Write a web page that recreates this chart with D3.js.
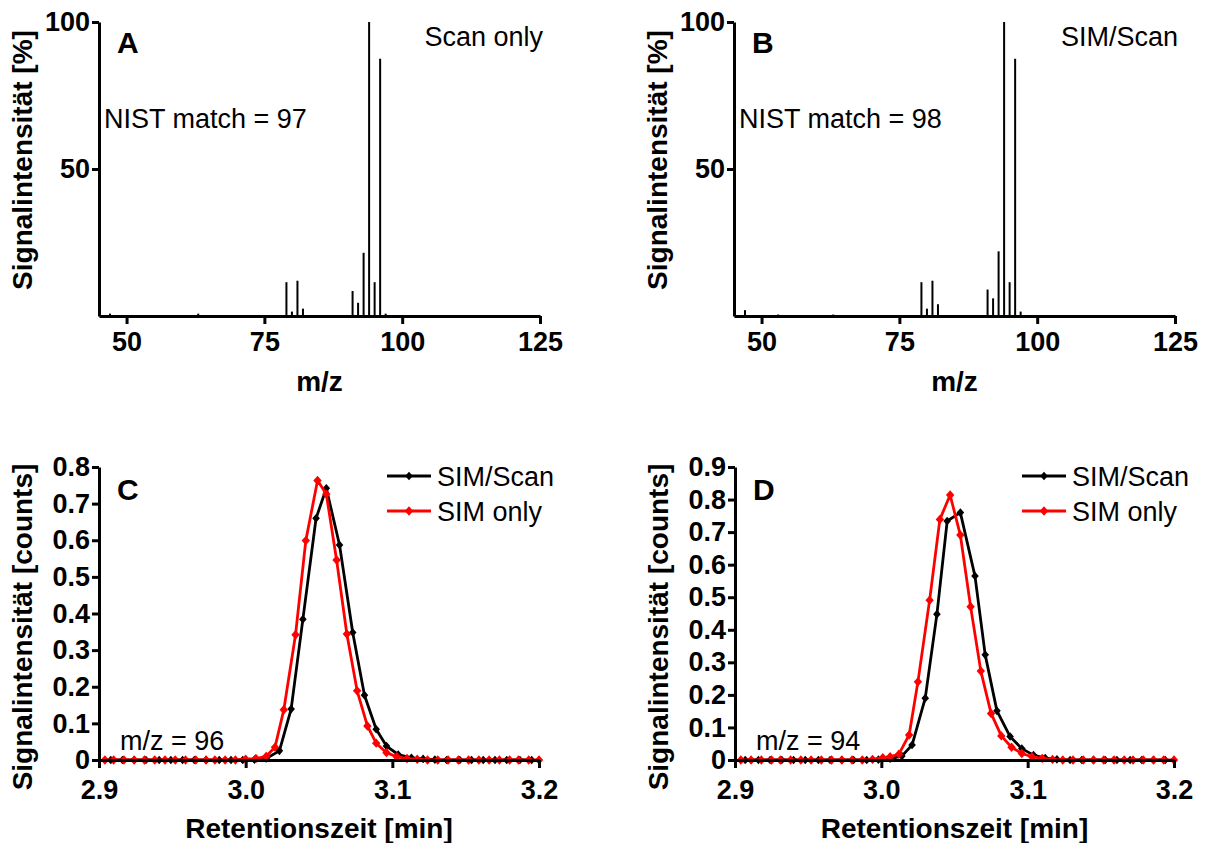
<!DOCTYPE html>
<html>
<head>
<meta charset="utf-8">
<title>Massenspektren und Chromatogramme</title>
<script src="https://cdn.jsdelivr.net/npm/d3@7"></script>
<style>
  body { margin: 0; background: #fff; }
  svg text { font-family: "Liberation Sans", Arial, sans-serif; fill: #000; }
  .axis path, .axis line { stroke: #000; stroke-width: 3; }
  .axis text { font-size: 27px; font-weight: bold; }
  .title { font-size: 28px; font-weight: bold; }
  .letter { font-size: 30px; font-weight: bold; }
  .note { font-size: 27px; }
</style>
</head>
<body>
<svg id="chart" width="1207" height="843"></svg>
<script>
// spectra (m/z, relative intensity in %)
var mzA  = [47, 63, 79, 80, 81, 82, 91, 92, 93, 94, 95, 96, 97];
var intA = [0.8, 0.8, 11.5, 1.5, 12, 2.5, 8.5, 4.5, 21.5, 100, 11.5, 87.5, 0.8];
var mzB  = [47, 53, 63, 79, 80, 81, 82, 91, 92, 93, 94, 95, 96, 97];
var intB = [2, 0.5, 0.5, 11.5, 2.5, 12, 4, 9, 6, 22, 100, 11.5, 87.5, 1.5];
var mzTicks = [50, 75, 100, 125];
var pctTicks = [50, 100];

// chromatogram C, m/z = 96
var tC_scan = [2.908, 2.916, 2.924, 2.932, 2.941, 2.949, 2.957, 2.965, 2.973, 2.982, 2.990, 2.998,
  3.006, 3.014, 3.023, 3.031, 3.039, 3.048, 3.055, 3.064, 3.073, 3.081, 3.089, 3.096, 3.104,
  3.113, 3.121, 3.129, 3.137, 3.146, 3.154, 3.162, 3.170, 3.178, 3.187, 3.195];
var vC_scan = [0, 0, 0, 0, 0, 0, 0, 0, 0, 0, 0, 0,
  0.001, 0.004, 0.025, 0.139, 0.384, 0.660, 0.742, 0.587, 0.348, 0.177, 0.084, 0.038, 0.015,
  0.006, 0.003, 0.001, 0, 0, 0, 0, 0, 0, 0, 0];
var tC_sim = [2.904, 2.910, 2.917, 2.924, 2.931, 2.938, 2.945, 2.952, 2.959, 2.966, 2.973, 2.979,
  2.986, 2.993, 3.000, 3.007, 3.014, 3.020, 3.026, 3.034, 3.041, 3.049, 3.055, 3.062, 3.069,
  3.076, 3.083, 3.089, 3.096, 3.103, 3.110, 3.117, 3.124, 3.131, 3.138, 3.145, 3.152, 3.159,
  3.166, 3.173, 3.180, 3.186, 3.193, 3.200];
var vC_sim = [0, 0, 0, 0, 0, 0, 0, 0, 0, 0, 0, 0,
  0, 0, 0.002, 0.004, 0.010, 0.035, 0.137, 0.342, 0.599, 0.763, 0.726, 0.546, 0.344,
  0.189, 0.093, 0.046, 0.020, 0.009, 0.004, 0.002, 0, 0, 0, 0, 0, 0,
  0, 0, 0, 0, 0, 0];

// chromatogram D, m/z = 94
var tD_scan = [2.907, 2.916, 2.924, 2.932, 2.940, 2.948, 2.957, 2.965, 2.973, 2.981, 2.990, 2.998,
  3.006, 3.014, 3.021, 3.030, 3.038, 3.045, 3.054, 3.064, 3.071, 3.079, 3.088, 3.096, 3.104,
  3.112, 3.120, 3.129, 3.137, 3.145, 3.153, 3.161, 3.170, 3.178, 3.186, 3.194];
var vD_scan = [0, 0, 0, 0, 0, 0, 0, 0, 0, 0, 0, 0.001,
  0.004, 0.012, 0.046, 0.190, 0.448, 0.734, 0.760, 0.565, 0.323, 0.151, 0.072, 0.035, 0.015,
  0.006, 0.002, 0, 0, 0, 0, 0, 0, 0, 0, 0];
var tD_sim = [2.904, 2.911, 2.918, 2.925, 2.931, 2.938, 2.945, 2.952, 2.959, 2.966, 2.973, 2.980,
  2.987, 2.994, 3.001, 3.006, 3.012, 3.019, 3.025, 3.033, 3.040, 3.047, 3.054, 3.061, 3.068,
  3.075, 3.082, 3.089, 3.096, 3.103, 3.110, 3.117, 3.124, 3.131, 3.138, 3.145, 3.152, 3.159,
  3.166, 3.172, 3.179, 3.186, 3.193, 3.200];
var vD_sim = [0, 0, 0, 0, 0, 0, 0, 0, 0, 0, 0, 0,
  0, 0.002, 0.007, 0.010, 0.018, 0.077, 0.240, 0.491, 0.739, 0.814, 0.691, 0.471, 0.273,
  0.143, 0.074, 0.039, 0.020, 0.010, 0.005, 0.002, 0, 0, 0, 0, 0, 0,
  0, 0, 0, 0, 0, 0];

var timeTicks = [2.9, 3.0, 3.1, 3.2];
var countTicksC = [0, 0.1, 0.2, 0.3, 0.4, 0.5, 0.6, 0.7, 0.8];
var countTicksD = [0, 0.1, 0.2, 0.3, 0.4, 0.5, 0.6, 0.7, 0.8, 0.9];

var svg = d3.select("#chart");

function diamond(sel, color, r) {
  sel.attr("d", "M0," + (-r - 0.5) + "L" + r + ",0L0," + (r + 0.5) + "L" + (-r) + ",0Z")
    .attr("fill", color);
}

function drawSpectrum(p) {
  var x = d3.scaleLinear().domain([45, 125]).range([p.left, p.right]);
  var y = d3.scaleLinear().domain([0, 100]).range([p.bottom, p.top]);
  var g = svg.append("g");

  g.selectAll("line.bar").data(p.mz).enter().append("line")
    .attr("class", "bar")
    .attr("x1", function (d) { return x(d); })
    .attr("x2", function (d) { return x(d); })
    .attr("y1", y(0))
    .attr("y2", function (d, i) { return y(p.int[i]); })
    .attr("stroke", "#000")
    .attr("stroke-width", 2);

  g.append("g").attr("class", "axis")
    .attr("transform", "translate(0," + p.bottom + ")")
    .call(d3.axisBottom(x).tickValues(mzTicks).tickSize(8).tickSizeOuter(0).tickPadding(8));
  g.append("g").attr("class", "axis")
    .attr("transform", "translate(" + p.left + ",0)")
    .call(d3.axisLeft(y).tickValues(pctTicks).tickSize(7).tickSizeOuter(0).tickPadding(2));

  g.append("text").attr("class", "title").attr("text-anchor", "middle")
    .attr("x", (p.left + p.right) / 2).attr("y", 391).text("m/z");
  g.append("text").attr("class", "title").attr("text-anchor", "middle")
    .attr("transform", "translate(" + (p.left - 67) + ",160) rotate(-90)")
    .text("Signalintensität [%]");
  g.append("text").attr("class", "letter").attr("x", p.left + 18).attr("y", 53).text(p.letter);
  g.append("text").attr("class", "note").attr("text-anchor", "end")
    .attr("x", p.right + 3).attr("y", 46).text(p.mode);
  g.append("text").attr("class", "note").attr("x", p.left + 5).attr("y", 128).text(p.nist);
}

function drawChrom(p) {
  var x = d3.scaleLinear().domain([2.9, 3.2]).range([p.left, p.right]);
  var y = d3.scaleLinear().domain([0, p.ymax]).range([p.bottom, p.top]);
  var g = svg.append("g");

  var line = d3.line()
    .x(function (d) { return x(d[0]); })
    .y(function (d) { return y(d[1]); });

  var series = [
    { t: p.tScan, v: p.vScan, color: "#000", r: 3.8 },
    { t: p.tSim, v: p.vSim, color: "#ff0000", r: 4.2 }
  ];
  series.forEach(function (s) {
    var pts = s.t.map(function (t, i) { return [t, s.v[i]]; });
    g.append("path").datum(pts).attr("d", line)
      .attr("fill", "none").attr("stroke", s.color).attr("stroke-width", 2.8)
      .attr("stroke-linejoin", "round");
    g.selectAll(null).data(pts).enter().append("path")
      .attr("transform", function (d) { return "translate(" + x(d[0]) + "," + y(d[1]) + ")"; })
      .call(diamond, s.color, s.r);
  });

  g.append("g").attr("class", "axis")
    .attr("transform", "translate(0," + p.bottom + ")")
    .call(d3.axisBottom(x).tickValues(timeTicks).tickFormat(d3.format(".1f"))
      .tickSize(8).tickSizeOuter(0).tickPadding(12));
  g.append("g").attr("class", "axis")
    .attr("transform", "translate(" + p.left + ",0)")
    .call(d3.axisLeft(y).tickValues(p.yticks)
      .tickFormat(function (d) { return d === 0 ? "0" : d3.format(".1f")(d); })
      .tickSize(7).tickSizeOuter(0).tickPadding(2));

  g.append("text").attr("class", "title").attr("text-anchor", "middle")
    .attr("x", (p.left + p.right) / 2).attr("y", 838).text("Retentionszeit [min]");
  g.append("text").attr("class", "title").attr("text-anchor", "middle")
    .attr("transform", "translate(" + (p.left - 67) + ",627) rotate(-90)")
    .text("Signalintensität [counts]");
  g.append("text").attr("class", "letter").attr("x", p.left + 18).attr("y", 500).text(p.letter);
  g.append("text").attr("class", "note").attr("x", p.left + 21).attr("y", 750).text(p.ion);

  // legend
  var lx = p.right - 152;
  var names = ["SIM/Scan", "SIM only"];
  series.forEach(function (s, i) {
    var ly = 476 + i * 35;
    g.append("line").attr("x1", lx).attr("x2", lx + 44).attr("y1", ly).attr("y2", ly)
      .attr("stroke", s.color).attr("stroke-width", 2.8);
    g.append("path").attr("transform", "translate(" + (lx + 22) + "," + ly + ")")
      .call(diamond, s.color, s.r);
    g.append("text").attr("class", "note").attr("x", lx + 50).attr("y", ly + 10).text(names[i]);
  });
}

drawSpectrum({ left: 99, right: 540, top: 22, bottom: 316, mz: mzA, int: intA,
  letter: "A", mode: "Scan only", nist: "NIST match = 97" });
drawSpectrum({ left: 734, right: 1175, top: 22, bottom: 316, mz: mzB, int: intB,
  letter: "B", mode: "SIM/Scan", nist: "NIST match = 98" });
drawChrom({ left: 99, right: 539, top: 467, bottom: 760, ymax: 0.8, yticks: countTicksC,
  tScan: tC_scan, vScan: vC_scan, tSim: tC_sim, vSim: vC_sim, letter: "C", ion: "m/z = 96" });
drawChrom({ left: 735, right: 1174, top: 467, bottom: 760, ymax: 0.9, yticks: countTicksD,
  tScan: tD_scan, vScan: vD_scan, tSim: tD_sim, vSim: vD_sim, letter: "D", ion: "m/z = 94" });
</script>
</body>
</html>
